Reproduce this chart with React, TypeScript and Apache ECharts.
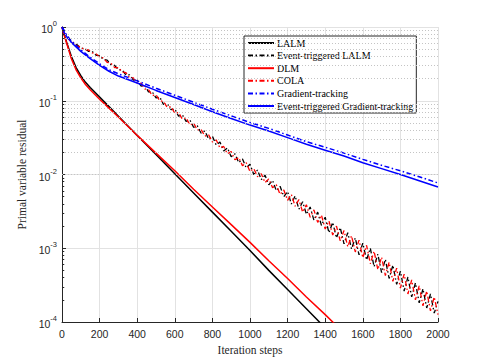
import React, { useEffect, useRef } from "react";
import * as echarts from "echarts";

// Iterations (x) and log10 of the residual
const lalmIter = [0, 10, 25, 50, 75, 100, 125, 150, 200, 250, 300, 400, 500, 600, 700, 800, 900, 1000, 1100, 1200, 1300, 1400];
const lalmExp = [0, -0.09, -0.21, -0.4, -0.55, -0.66, -0.75, -0.82, -0.95, -1.08, -1.21, -1.47, -1.73, -1.99, -2.25, -2.51, -2.77, -3.03, -3.3, -3.56, -3.82, -4.08];

const dlmIter = [0, 10, 25, 50, 75, 100, 125, 150, 200, 250, 300, 400, 500, 600, 700, 800, 900, 1000, 1100, 1200, 1300, 1400, 1500];
const dlmExp = [0, -0.1, -0.22, -0.43, -0.58, -0.69, -0.78, -0.85, -0.98, -1.1, -1.22, -1.47, -1.71, -1.95, -2.2, -2.44, -2.68, -2.92, -3.17, -3.41, -3.66, -3.9, -4.15];

// noisy curves sampled every 20 iterations (log10 of residual)
const etLalmExp = [
  0, -0.1, -0.16, -0.23, -0.24, -0.29, -0.29, -0.33, -0.33, -0.38,
  -0.39, -0.44, -0.45, -0.51, -0.52, -0.58, -0.58, -0.65, -0.65, -0.72,
  -0.72, -0.8, -0.79, -0.88, -0.88, -0.96, -0.95, -1.05, -1.04, -1.12,
  -1.11, -1.21, -1.19, -1.28, -1.26, -1.36, -1.34, -1.44, -1.41, -1.52,
  -1.48, -1.6, -1.56, -1.68, -1.64, -1.76, -1.72, -1.84, -1.79, -1.91,
  -1.86, -2.0, -1.94, -2.07, -2.01, -2.14, -2.08, -2.22, -2.16, -2.3,
  -2.23, -2.4, -2.29, -2.47, -2.37, -2.54, -2.44, -2.62, -2.51, -2.69,
  -2.58, -2.79, -2.65, -2.86, -2.72, -2.94, -2.79, -3.01, -2.86, -3.09,
  -2.93, -3.16, -3.0, -3.25, -3.08, -3.33, -3.15, -3.41, -3.23, -3.49,
  -3.31, -3.58, -3.39, -3.66, -3.47, -3.74, -3.55, -3.81, -3.62, -3.88,
  -3.72,
];
const colaExp = [
  0, -0.11, -0.18, -0.21, -0.26, -0.27, -0.31, -0.31, -0.35, -0.36,
  -0.41, -0.42, -0.48, -0.49, -0.55, -0.55, -0.61, -0.62, -0.69, -0.69,
  -0.76, -0.76, -0.84, -0.85, -0.93, -0.92, -1.0, -1.01, -1.09, -1.08,
  -1.17, -1.16, -1.25, -1.23, -1.33, -1.3, -1.4, -1.39, -1.48, -1.46,
  -1.56, -1.53, -1.64, -1.62, -1.72, -1.69, -1.8, -1.77, -1.88, -1.84,
  -1.96, -1.92, -2.03, -1.99, -2.11, -2.06, -2.18, -2.14, -2.27, -2.21,
  -2.35, -2.27, -2.43, -2.34, -2.51, -2.41, -2.58, -2.48, -2.65, -2.55,
  -2.74, -2.63, -2.82, -2.7, -2.9, -2.76, -2.98, -2.83, -3.05, -2.89,
  -3.13, -2.96, -3.21, -3.04, -3.29, -3.12, -3.37, -3.19, -3.45, -3.27,
  -3.54, -3.35, -3.62, -3.43, -3.7, -3.51, -3.78, -3.58, -3.85, -3.66,
  -3.9,
];

const gtIter = [0, 10, 20, 30, 40, 50, 75, 100, 150, 200, 250, 300, 400, 500, 600, 700, 800, 900, 1000, 1100, 1200, 1300, 1400, 1500, 1600, 1700, 1800, 1900, 2000];
const gtExp = [0, -0.04, -0.09, -0.12, -0.17, -0.19, -0.25, -0.31, -0.41, -0.5, -0.58, -0.635, -0.73, -0.83, -0.925, -1.02, -1.115, -1.205, -1.295, -1.375, -1.465, -1.555, -1.63, -1.71, -1.795, -1.875, -1.95, -2.03, -2.115];
const etGtExp = [0, -0.07, -0.11, -0.15, -0.17, -0.21, -0.27, -0.33, -0.43, -0.52, -0.6, -0.665, -0.76, -0.86, -0.955, -1.05, -1.15, -1.24, -1.33, -1.41, -1.5, -1.59, -1.67, -1.75, -1.84, -1.92, -2.0, -2.085, -2.17];

const seriesNames = [
  "LALM",
  "Event-triggered LALM",
  "DLM",
  "COLA",
  "Gradient-tracking",
  "Event-triggered Gradient-tracking",
];

const noisyStep = 20;
const decades = [-4, -3, -2, -1];
const minorMantissas = [2, 3, 4, 5, 6, 7, 8, 9];

const toPairs = (xs: number[], es: number[]) => es.map((e, i) => [xs[i], Math.pow(10, e)]);
const toStepPairs = (es: number[]) => es.map((e, i) => [i * noisyStep, Math.pow(10, e)]);

const AXIS_COLOR = "#262626";
const DASHDOT = [5, 2.5, 1.5, 2.5];

export default function App() {
  const ref = useRef<HTMLDivElement>(null);

  useEffect(() => {
    document.body.style.margin = "0";
    if (!ref.current) return;
    const chart = echarts.init(ref.current, undefined, { renderer: "svg" });

    const minorVals: number[] = [];
    decades.forEach((d) => minorMantissas.forEach((m) => minorVals.push(m * Math.pow(10, d))));

    const line = (name: string, data: number[][], color: string, type: any, width: number) => ({
      name,
      type: "line",
      data,
      showSymbol: false,
      symbol: "none",
      clip: true,
      z: 2,
      lineStyle: { color, type, width },
      itemStyle: { color },
      emphasis: { disabled: true },
    });

    const option: any = {
      animation: false,
      backgroundColor: "#ffffff",
      grid: { left: 62, right: 47, top: 27, bottom: 41, containLabel: false },
      xAxis: {
        type: "value",
        min: 0,
        max: 2000,
        interval: 200,
        axisLine: { show: true, onZero: false, lineStyle: { color: AXIS_COLOR, width: 1 } },
        axisTick: { show: true, inside: true, length: 4, lineStyle: { color: AXIS_COLOR } },
        axisLabel: {
          color: AXIS_COLOR,
          fontSize: 10.5,
          fontFamily: "Liberation Sans",
          margin: 6,
          formatter: (v: number) => String(v),
        },
        splitLine: { show: true, lineStyle: { color: "#e2e2e2", width: 1 } },
        name: "Iteration steps",
        nameLocation: "middle",
        nameGap: 21,
        nameTextStyle: { fontFamily: "Liberation Serif", fontSize: 11.5, color: AXIS_COLOR },
      },
      yAxis: {
        type: "log",
        logBase: 10,
        min: 1e-4,
        max: 1,
        axisLine: { show: true, onZero: false, lineStyle: { color: AXIS_COLOR, width: 1 } },
        axisTick: { show: true, inside: true, length: 4, lineStyle: { color: AXIS_COLOR } },
        axisLabel: {
          margin: 5,
          formatter: (v: number) => `{b|10}{s|${Math.round(Math.log10(v))}}`,
          rich: {
            b: { fontSize: 10.5, fontFamily: "Liberation Sans", color: AXIS_COLOR, lineHeight: 15, verticalAlign: "bottom" },
            s: { fontSize: 7.5, fontFamily: "Liberation Sans", color: AXIS_COLOR, lineHeight: 15, verticalAlign: "top" },
          },
        },
        splitLine: { show: true, lineStyle: { color: "#e2e2e2", width: 1 } },
        name: "Primal variable residual",
        nameLocation: "middle",
        nameGap: 34,
        nameTextStyle: { fontFamily: "Liberation Serif", fontSize: 11.5, color: AXIS_COLOR },
      },
      legend: {
        data: seriesNames,
        orient: "vertical",
        left: 244,
        top: 36,
        itemWidth: 26,
        itemHeight: 10,
        itemGap: 2.6,
        padding: [2, 3, 2, 3],
        borderColor: AXIS_COLOR,
        borderWidth: 1,
        borderRadius: 0,
        backgroundColor: "#ffffff",
        selectedMode: false,
        itemStyle: { opacity: 0, borderWidth: 0 },
        textStyle: { fontFamily: "Liberation Serif", fontSize: 10, color: "#000000", padding: [0, 0, 0, -2] },
      },
      series: [
        {
          name: "_minorgrid",
          type: "line",
          data: [],
          silent: true,
          z: 1,
          markLine: {
            silent: true,
            symbol: "none",
            animation: false,
            label: { show: false },
            lineStyle: { color: "#c4c4c4", type: [1, 2], width: 1 },
            emphasis: { disabled: true },
            data: minorVals.map((v) => ({ yAxis: v })),
          },
        },
        {
          name: "_minorticks",
          type: "line",
          data: [],
          silent: true,
          z: 3,
          markLine: {
            silent: true,
            symbol: "none",
            animation: false,
            label: { show: false },
            lineStyle: { color: AXIS_COLOR, type: "solid", width: 1 },
            emphasis: { disabled: true },
            data: minorVals.map((v) => [{ coord: [0, v] }, { coord: [12, v] }]),
          },
        },
        line(seriesNames[0], toPairs(lalmIter, lalmExp), "#000000", "solid", 1.5),
        line(seriesNames[1], toStepPairs(etLalmExp), "#000000", DASHDOT, 1.3),
        line(seriesNames[2], toPairs(dlmIter, dlmExp), "#ff0000", "solid", 1.5),
        line(seriesNames[3], toStepPairs(colaExp), "#ff0000", DASHDOT, 1.3),
        line(seriesNames[4], toPairs(gtIter, gtExp), "#0000ff", DASHDOT, 1.5),
        line(seriesNames[5], toPairs(gtIter, etGtExp), "#0000ff", "solid", 1.5),
      ],
    };

    chart.setOption(option);
    return () => chart.dispose();
  }, []);

  return <div ref={ref} style={{ width: 485, height: 363 }} />;
}
